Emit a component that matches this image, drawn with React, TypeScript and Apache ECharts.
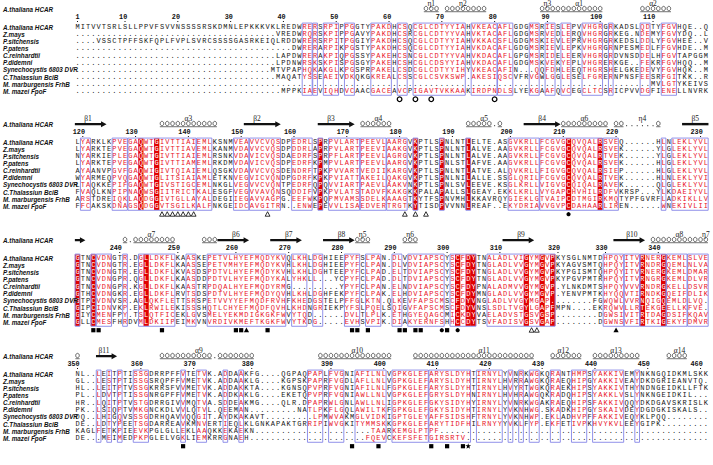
import React, { useEffect, useRef } from "react";
import * as echarts from "echarts";

// ---------------- data ----------------
const speciesNames = [
  "A.thaliana HCAR",
  "Z.mays",
  "P.sitchensis",
  "P.patens",
  "C.reinhardtii",
  "P.didemni",
  "Synechocystis 6803 DVR",
  "C.Thalassiun BciB",
  "M. marburgensis FrhB",
  "M. mazei FpoF",
];
const headerName = "A.thaliana HCAR";

const gap = (n: number) => ".".repeat(n);

const block1Seqs = [
  "MITVVTSRLSLLPPVFSVVNSSSSRSKDMNLEPKKKVKLREDWRERSRPIPPGGTYPAKDHCSQCGLCDTYYIAHVKEACAFLGDGMSRIESLEPVVHGRGRKADSLQDTYFGVHQE..Q",
  gap(38) + "VREDWRQRSKPIPPGAVYPAKDHCSRCGLCDTYYVAHVKTACAFLGDGMSRVEDLERQVHGRGRKEG.NDEMYFGVYDQ..L",
  gap(4) + "VSSCTPFFSKFQPLFVPLSVRCSSSSGASRKEIQLRDDWRERSRPITPGGIYPAKDHCSQCGLCDTYYIAHVKKACSFLGDGMSKIEVLEPRVHGRGRKEDSLDDLYFGVHEE..V",
  gap(41) + "DWRERARPIKPGSTYPAKDHCSQCGLCDTYYIAHVKDACAFLGDGMSRIEVLEPKVHGRGRNPESMEDLFFGVHDE..M",
  gap(38) + "LAPDWRERAKPIQPGSSYPAKEHCSNCGLCDTYYVAHVKDACAFLGPGMSRIDELEERVHGRGRDVNSDDELHFGVTAPGGM",
  gap(38) + "LPDNWRSKSKPISPGSGYPAKEHCSHCGLCDSYYIAHVKDACAFLGDGMSKVEKYEPLVHGRERKGE..FEKRFGVHQQ..M",
  gap(37) + "MTVPAPHQKAKGLKPGSPRPAKELCSDCGLCDTYYIHYVKEACAFIN...QQFDHLEEQTHGRSHELGKEDEVYFGVHQK..M",
  gap(38) + "MAQATYSSEAEIVDKQKGKREALCSSCGLCSVKSWP.AKESIQSCVFRVGWLGGLESELFGRERNPNSFEESRFGITKK..R",
  gap(109) + "MVLGTYKEIVS",
  gap(39) + "MPPKIAEVIQHDVCAACGACEAVCPIGAVTVKKAAKIRDPNDLSLYEKGAAFQVCEGCLTCSRICPVVDGFIENELLNVRK",
];

const block2Seqs = [
  "LYARKLKPVEGAQWTGIVTTIAIEMLKSNMVEAVVCVQSDPEDRLSPRPVLARTPEEVLAARGVKPTLSPNLNTLELTE.ASGVKRLLFCGVGCQVQALRSVEQ......HLNLEKLYVL",
  "LYARKTEPVEGAQWTGIVTTIAVEMLKANMVDAVVCVQSDPDDRLAPRPVLARTPEEVIAAKGVKPTLSPNLNTLALVE.AAGVKRLLFCGVGCQVQALRSVEK......YLGLEKLYVL",
  "NYARKIEPLEGAQWTGIVTTIAIEMLRSNKVDAVICVQSDAEDRFSPRPFLARTPEEVLAGRGVKPTLSPNLNTLALVE.AAGVKRLLFCGVGCQVQALRTVEK......YLGLEKLYVL",
  "LYARKTEPVEGAQWTGIVTTIAMEMLRKDMVDAVICVQSDPEDRFKPMPVLARTPEEVLAARGVKPTLSPNLSTLAFVE.AAGVKRLLFCGVGCQVQALRSVEK......HLGLEKLYVL",
  "AYAANVPGVFGAQWIGIVTQIAIEMLQSGKVDAVVCVQSDENDRFTPKPVVARTVEDIIKARGVKPTLSPNLNTLATVE.ALQVKRLLFIGVGCQVQALRSIEP......HLGLEKLYVL",
  "WYARMEQPVQGAQWTGLITSIAIAMLETKNVEGVICVQNDPGDRFKPKPVIATTAKEILQAKGVKPTLSPNLNILALLE.SSGLQRILFCGVGCQVQALRTVEK......HLNLEKLYVI",
  "LTAQKKEPIFGAQWTGIVSTIGCEMLNKGLVEGVVCVQNTPEDRFQPQVVIARTPAEVLAAKVNKPTLSPNLSVLEEVE.KSGLKRLLVIGVGCQIQALRAVEK......QLGLEKLYVL",
  "FVAQLKNPIPNAQWSGIITRICTKALESGFVEGVVAVQNSQDDIFVPKPVLATSTADVFKAKGKKPALAPALLSLGEAY.EKKLKRLLVYGAPCHVHILRDFVKRSP...YLKDAEIYVL",
  "ARSTDREIQKLAQDGGIVTGLLAYALDEGIIEGAVVAGPG.EEFWKPQPMVAMSSDELKAAAGTKYTFSPNVMHLKKAVRQYGIEKLGTVAIPCDTMGIRKMQTYPFGVRFLADKIKLLV",
  "FFCAKSKDNAGSQDGGVTSGILKALFNKGEIDCAVGITRN..ENWEPEVVLISAEDVERTRGTKYTISDPVVNNLREAF..EKYDRIAVVGVPCDAHAARLIREN......WNEKIVLII",
];

const block3Seqs = [
  "GTNCVDNGTR.DGLLDKFLKAASKEPETVLHYEFMQDYKVQLKHLDGHIEE" + "PYFSLPAN.DLVDVIAPSCYSCFDYTNALADLVIGYMGVPKYSGLNMTDHPQYITVRNERGKEMLSLVE",
  "GTNCVDNGTR.EGLLDKFLKAASSEPETVMHYEFMQDYKVHLKHLDGHIEE" + "PYFCLPAN.DLVDVIAPSCYSCFDYTNGLADLVVGYMGVPKYAGVSMTQHPQYITVRNDRGQEMLNLVA",
  "GTNCVDNGTR.EGLLDKFLKVASDSPDTVLHYEFMQDYKVHLKHLDGHTEE" + "PYFCLPAD.ELTDVIAPSCYSCFDYTNGLADLVVGYMGVPKYPGISMTQHPQYITVRNERGKEMLDMAR",
  "GTNCVDNGPR.QGLLDKFLKAASDDPDTVLHYEFMQDYKALYHKLL...YC" + "PYFCLPAD.DLTDVIAPSCYSCFDYTNGLADLVVGYMGVPKYPGVPMTRHPQYITVRNGRGKEMLDLVR",
  "GTNCVDNGPR.KGLLDKFLKAASTRPDQALHYEFMQDYRMG.........Y" + "PYFCLPAN.ELNDVIAPSCYSCFDYPNALADMVVGYMGVP.YLNKDMTSHPQYVVVRNDRGKELLDSVR",
  "GTHCVDNGKR.EGLLDKFLRVTSDSPDTVLHYEFMQDYQVHLKHLDGHFEK" + "PYFCLPAK.ELHDVIAPSCYSCFDYMNGLADLVVGYMGVP.YENVPMTKHYQQVTIRNDKGQEIFDLIK",
  "GTPCVDNVSR.AGLQKFLETTSRSPETVVYYEFMQDFRVHFKHEDGSTEL" + "PFFGLKTN.QLKEVFAPSCMSCFDYVNGLADLVVGYMGAP........FGWQWLVVRNQIGQEMLDLVQ",
  "GIPCIDNVKP.EKLRWILEKISSSHQTLCHYEFMQDFQVHLKHDNGRIEK" + "PYFSLPQELSQIGVFAPSCMSCFDYVNSLSDLTVGYLGAPFMPN....EKRQWVLLRTEKGEELLKFVE",
  "GIYCMENFPY.TSLQTFICEKLGVSMELYEKMDIGKGKFWVYTQD......" + "DVLTLPLK.ETHGYEQAGCMICKDYVAELADVSTGSVGSP........DGWSIVITRTDAGDSIFKQAV",
  "GLLCMESFHRDVMLDKIIPEIMKVNVRDIVKMEFTKGKFWVYTKDG....." + "EVHSVPIK.DIAKYERNFSHHCCDYTSVFADISVGSVGAP........DGWNSVFIRTKIGEKYFDMVR",
];

const block4Seqs = [
  "NL..LEITPTISSGDRRPFFVTETVK.ADDAAKFG....QGPAQPAPLFVGN" + "IAFILNLVGPKGLEFARYSLDYHTIRNYLYVNRKWGKQRANTHMPSYAKKIVEMYNKNGQIDKMLSKK",
  "GL..LESTPTISSGSRQPFFVMETVK.ADDAAKLG....KGPSKPAPRFVGD" + "LAFLLNLVGPKGLEFARYSLDYHTIRNYLHVRRAWGKQRAEQHIPGYAKKIVEAYDKDGRIEANVTQ.",
  "HL..LEITPTVSSGKRRSFVVMETVK.ADDAKKTA....KGNSQPVPRFVGN" + "IAFILNLFGPKGLEFARYSLDYHTIRNYLHVYRTWGKQRAEKHIPSYAKKIVTHYNDNGEIDKLLFTK",
  "PL..LDVTPTISSGNRGPFFVMETVK.ADDKAKLG....EKETQPVPRFVGN" + "IAWLLNLVGPKGLEFGRYSLDYHNIRNYLHVHRAWGQKRADQHIPSYAKKLVSLYNKNGEIDKIL...",
  "HR..LQITPTVSTGDRRGIVVMQTVA.SDDEAKMG....QLR.DPAPRWLGN" + "LAWLLNLIGPKGLEFGKYSIDYHYIRNYLYVNRKWGAKRAEQHIPSFAKKIVQQYDKDGAVSKRISLK",
  "PK..LSIQPTVMKGNCKDLVVLQTVL.QEEMAN.........NATLPKFLGQ" + "LAWILTKFGPKGLEFGKYSIDYHTIRNYLYVKNHWG.SKADKHIPGYSKAIVDEYDGDGKISKALS..",
  "DQ..LHIGQVSSSGDRHQAVVQQGIT.AYDKAKAVT.........LPMWVAK" + "MGLVIDKIGPTGLEYAFFSIDSHFTRNYLYVKNHWP.EKLADHVPFFAKKIVEQYKLPQQ........",
  "DE..LDTYPEETSGDARREAVKMNVERTIEQLKLGNKAPAKTGRRIPIWVGK" + "ITYMMSKKGPKGLEFARYTIDFHILRNYYYVKLFYP.EKFETIVPKHVYKVLEEYGIPK.........",
  "KAGLFETKPIEEVKPGLGLLEKLAAQKKEKAEKN" + gap(18) + "....TAARKEMGLPTPF" + gap(51),
  "DE...MEIMEDPKPGLELVGKLIEMKRRGNAEH" + gap(19) + "...FQEVCKEFSFETGIRSRTV" + gap(46),
];

// strictly conserved columns (red background)
const block1RedCols: number[] = [];
const block2RedCols = [12, 15, 46, 64, 69, 74, 93, 99];
const block3RedCols = [0, 3, 13, 72, 74, 75, 85, 88, 90, 107, 111];
const block4RedCols: number[] = [];

// similarity frames [first column, last column]
const block1Boxes = [[43, 44], [45, 45], [47, 49], [51, 52], [56, 59], [61, 62], [64, 73], [75, 79], [80, 82], [86, 87], [89, 90], [92, 93], [96, 99], [101, 101], [107, 108], [111, 113]];
const block2Boxes = [[1, 2], [7, 9], [10, 22], [23, 25], [30, 32], [33, 38], [41, 44], [46, 46], [48, 53], [54, 58], [59, 62], [64, 64], [69, 69], [74, 74], [82, 87], [88, 99], [100, 102], [111, 111], [113, 119]];
const block3Boxes = [[0, 0], [3, 3], [4, 6], [9, 9], [12, 18], [21, 22], [25, 39], [41, 43], [45, 46], [51, 53], [55, 57], [60, 61], [63, 69], [71, 75], [78, 90], [100, 103], [104, 106], [107, 111], [112, 115], [116, 119]];
const block4Boxes = [[4, 4], [6, 6], [8, 8], [11, 13], [20, 20], [23, 24], [28, 28], [31, 31], [44, 46], [48, 50], [53, 58], [60, 66], [67, 74], [76, 80], [82, 82], [84, 84], [86, 87], [90, 91], [94, 96], [98, 103], [106, 106]];

// residue numbering [label, column]
const block1Ticks = [[1, 0], [10, 9], [20, 19], [30, 29], [40, 39], [50, 49], [60, 59], [70, 69], [80, 79], [90, 89], [100, 99], [110, 109]];
const block2Ticks = [[120, 1], [130, 11], [140, 21], [150, 31], [160, 41], [170, 51], [180, 61], [190, 71], [200, 82], [210, 92], [220, 102], [230, 118]];
const block3Ticks = [[240, 8], [250, 19], [260, 30], [270, 40], [280, 50], [290, 60], [300, 70], [310, 80], [320, 91], [330, 100], [340, 110]];
const block4Ticks = [[350, 0], [360, 12], [370, 22], [380, 33], [390, 48], [400, 58], [410, 68], [420, 78], [430, 88], [440, 98], [450, 108], [460, 118]];

// secondary structure: h = helix turn, e = strand arrow, E = strand without head, t = turn dot
const block1SS: [string, number, number][] = [["h", 66, 68], ["h", 70, 77], ["h", 88, 91], ["h", 92, 99], ["h", 107, 112]];
const block2SS: [string, number, number][] = [["e", 0, 5], ["h", 16, 26], ["e", 32, 38], ["e", 46, 52], ["h", 54, 59], ["h", 74, 78], ["t", 79, 79], ["h", 80, 80], ["e", 85, 91], ["h", 92, 100], ["h", 102, 103], ["t", 104, 109], ["h", 110, 110], ["E", 115, 119]];
const block3SS: [string, number, number][] = [["e", 0, 1], ["h", 9, 9], ["t", 10, 10], ["h", 11, 18], ["h", 24, 26], ["e", 27, 32], ["e", 37, 42], ["e", 47, 52], ["h", 53, 55], ["h", 62, 64], ["e", 81, 86], ["e", 102, 107], ["h", 109, 119]];
const block4SS: [string, number, number][] = [["h", 0, 0], ["e", 4, 7], ["h", 16, 25], ["t", 26, 26], ["h", 27, 33], ["h", 46, 59], ["h", 64, 86], ["h", 90, 95], ["h", 98, 106], ["h", 112, 115]];

const block1SSLabels: [string, number][] = [["η1", 67], ["η2", 73], ["η3", 89], ["α1", 95], ["α2", 109]];
const block2SSLabels: [string, number][] = [["β1", 2], ["α3", 21], ["β2", 34], ["β3", 48], ["α4", 57], ["α5", 77], ["β4", 88], ["α6", 96], ["η4", 107], ["β5", 117]];
const block3SSLabels: [string, number][] = [["α7", 14], ["β6", 30], ["β7", 40], ["β8", 50], ["η5", 54], ["η6", 63], ["β9", 84], ["β10", 105], ["α8", 114], ["η7", 119]];
const block4SSLabels: [string, number][] = [["β11", 5], ["α9", 23], ["α10", 53], ["α11", 77], ["α12", 92], ["α13", 102], ["α14", 114]];

// site markers under the alignment: o open circle, c filled circle, s square, t filled triangle, T open triangle, S star
const block1Marks: [string, number][] = [["o", 61], ["o", 64], ["o", 67], ["o", 79]];
const block2Marks: [string, number][] = [["T", 16], ["T", 17], ["T", 18], ["T", 19], ["T", 20], ["T", 21], ["T", 22], ["T", 36], ["T", 62], ["T", 64], ["T", 66], ["c", 93]];
const block3Marks: [string, number][] = [["s", 3], ["s", 4], ["s", 16], ["s", 30], ["s", 31], ["t", 32], ["s", 36], ["s", 52], ["s", 53], ["s", 55], ["s", 61], ["s", 62], ["s", 64], ["s", 65], ["c", 69], ["s", 70], ["c", 72], ["T", 86], ["T", 87], ["t", 102]];
const block4Marks: [string, number][] = [["s", 20], ["s", 52], ["s", 57], ["s", 67], ["s", 70], ["s", 73], ["S", 74]];

const blocks = [
  { seqs: block1Seqs, red: block1RedCols, boxes: block1Boxes, ticks: block1Ticks, ss: block1SS, ssLabels: block1SSLabels, marks: block1Marks },
  { seqs: block2Seqs, red: block2RedCols, boxes: block2Boxes, ticks: block2Ticks, ss: block2SS, ssLabels: block2SSLabels, marks: block2Marks },
  { seqs: block3Seqs, red: block3RedCols, boxes: block3Boxes, ticks: block3Ticks, ss: block3SS, ssLabels: block3SSLabels, marks: block3Marks },
  { seqs: block4Seqs, red: block4RedCols, boxes: block4Boxes, ticks: block4Ticks, ss: block4SS, ssLabels: block4SSLabels, marks: block4Marks },
];

// ---------------- layout / style ----------------
const NCOL = 120;
const COL_PITCH = 5.28;
const COL0_X = 77.5;
const ROW_PITCH = 7.15;
const FIRST_ROW_Y = [27, 142, 258, 374];
const Y_MIN = -3.7;
const Y_MAX = 10.6;
const Y_SSLABEL = -3.35;
const Y_GLYPH = -2.5;
const Y_NUM = -1.35;
const Y_MARK = 10.1;

const RED_FILL = "#e10000";
const RED_TEXT = "#e8131f";
const BOX_BLUE = "#8585e6";
const INK = "#161616";
const MONO = '"Liberation Mono", "DejaVu Sans Mono", monospace';

function fixLen(s: string) {
  if (s.length >= NCOL) return s.slice(0, NCOL);
  return s + ".".repeat(NCOL - s.length);
}

function buildOption() {
  const grid: any[] = [];
  const xAxis: any[] = [];
  const yAxis: any[] = [];
  const series: any[] = [];

  blocks.forEach((blk, b) => {
    const seqs = blk.seqs.map(fixLen);
    const redSet = new Set(blk.red);
    const inBox = (c: number) => blk.boxes.some(([s, e]) => c >= s && c <= e);
    grid.push({
      left: COL0_X - COL_PITCH / 2,
      width: NCOL * COL_PITCH,
      top: FIRST_ROW_Y[b] + Y_MIN * ROW_PITCH,
      height: (Y_MAX - Y_MIN) * ROW_PITCH,
      containLabel: false,
    });
    xAxis.push({ type: "value", gridIndex: b, min: -0.5, max: NCOL - 0.5, show: false });
    yAxis.push({ type: "value", gridIndex: b, min: Y_MIN, max: Y_MAX, inverse: true, show: false });

    const common = { type: "custom", xAxisIndex: b, yAxisIndex: b, silent: true, animation: false };

    // red conserved columns
    series.push({
      ...common,
      z: 1,
      data: blk.red.map((c) => [c, 0]),
      renderItem: (_p: any, api: any) => {
        const c = api.value(0);
        const a = api.coord([c - 0.5, -0.5]);
        const z = api.coord([c + 0.5, 9.5]);
        return { type: "rect", shape: { x: a[0], y: a[1], width: z[0] - a[0], height: z[1] - a[1] }, style: { fill: RED_FILL } };
      },
    });

    // residues
    const cells: number[][] = [];
    seqs.forEach((s, r) => {
      for (let c = 0; c < NCOL; c++) cells.push([c, r]);
    });
    series.push({
      ...common,
      z: 3,
      data: cells,
      renderItem: (_p: any, api: any) => {
        const c = api.value(0);
        const r = api.value(1);
        const raw = seqs[r][c];
        const p = api.coord([c, r]);
        const lower = raw !== raw.toUpperCase();
        let fill = INK;
        if (redSet.has(c)) fill = "#ffffff";
        else if (raw !== "." && !lower && inBox(c)) fill = RED_TEXT;
        return {
          type: "text",
          x: p[0],
          y: p[1],
          style: { text: raw.toUpperCase(), fill, fontSize: 7, fontFamily: MONO, align: "center", verticalAlign: "middle" },
        };
      },
    });

    // frames
    series.push({
      ...common,
      z: 4,
      data: blk.boxes.map(([s, e]) => [s, e]),
      renderItem: (_p: any, api: any) => {
        const a = api.coord([api.value(0) - 0.5, -0.55]);
        const z = api.coord([api.value(1) + 0.5, 9.55]);
        return {
          type: "rect",
          shape: { x: a[0] + 0.3, y: a[1], width: z[0] - a[0] - 0.6, height: z[1] - a[1] },
          style: { fill: "none", stroke: BOX_BLUE, lineWidth: 0.9 },
        };
      },
    });

    // secondary structure glyphs
    series.push({
      ...common,
      z: 5,
      data: blk.ss.map((d, i) => [d[1], Y_GLYPH, i]),
      renderItem: (_p: any, api: any) => {
        const d = blk.ss[api.value(2)];
        const kind = d[0];
        const s = d[1];
        const e = d[2];
        const children: any[] = [];
        const p0 = api.coord([s - 0.5, Y_GLYPH]);
        const p1 = api.coord([e + 0.5, Y_GLYPH]);
        const y = p0[1];
        if (kind === "h") {
          for (let c = s; c <= e; c++) {
            const pc = api.coord([c, Y_GLYPH]);
            children.push({ type: "ellipse", shape: { cx: pc[0], cy: y - 0.6, rx: 1.8, ry: 2.2 }, style: { fill: "none", stroke: "#333", lineWidth: 0.75 } });
          }
          children.push({ type: "line", shape: { x1: p0[0] + 0.5, y1: y + 2.6, x2: p1[0] - 0.5, y2: y + 2.6 }, style: { stroke: "#333", lineWidth: 0.7 } });
        } else if (kind === "t") {
          for (let c = s; c <= e; c++) {
            const pc = api.coord([c, Y_GLYPH]);
            children.push({ type: "circle", shape: { cx: pc[0], cy: y + 1.6, r: 0.55 }, style: { fill: "#333" } });
          }
        } else {
          const head = kind === "e" ? 5.5 : 0;
          const x0 = p0[0];
          const x1 = p1[0];
          children.push({
            type: "polygon",
            shape: {
              points: head
                ? [[x0, y - 1.2], [x1 - head, y - 1.2], [x1 - head, y - 3], [x1, y], [x1 - head, y + 3], [x1 - head, y + 1.2], [x0, y + 1.2]]
                : [[x0, y - 1.2], [x1, y - 1.2], [x1, y + 1.2], [x0, y + 1.2]],
            },
            style: { fill: "#111" },
          });
        }
        return { type: "group", children };
      },
    });

    // secondary structure labels
    series.push({
      ...common,
      z: 5,
      data: blk.ssLabels.map((d, i) => [d[1], Y_SSLABEL, i]),
      renderItem: (_p: any, api: any) => {
        const d = blk.ssLabels[api.value(2)];
        const p = api.coord([api.value(0), Y_SSLABEL]);
        return {
          type: "text",
          x: p[0],
          y: p[1],
          style: { text: d[0], fill: "#222", fontSize: 7.5, fontFamily: '"Liberation Serif", "DejaVu Serif", serif', align: "center", verticalAlign: "middle" },
        };
      },
    });

    // residue numbers with their dot
    series.push({
      ...common,
      z: 5,
      data: blk.ticks.map(([lab, col]) => [col, Y_NUM, lab]),
      renderItem: (_p: any, api: any) => {
        const p = api.coord([api.value(0), Y_NUM]);
        return {
          type: "group",
          children: [
            {
              type: "text",
              x: p[0] + 2.2,
              y: p[1],
              style: { text: String(api.value(2)), fill: "#111", fontSize: 6.8, fontWeight: "bold", fontFamily: MONO, align: "right", verticalAlign: "middle" },
            },
            { type: "rect", shape: { x: p[0] - 0.5, y: p[1] + 3.6, width: 1, height: 1 }, style: { fill: "#111" } },
          ],
        };
      },
    });

    // markers
    series.push({
      ...common,
      z: 5,
      data: blk.marks.map((d, i) => [d[1], Y_MARK, i]),
      renderItem: (_p: any, api: any) => {
        const kind = blk.marks[api.value(2)][0];
        const p = api.coord([api.value(0), Y_MARK]);
        const x = p[0];
        const y = p[1];
        if (kind === "o") return { type: "circle", shape: { cx: x, cy: y, r: 2.3 }, style: { fill: "none", stroke: "#000", lineWidth: 1.3 } };
        if (kind === "c") return { type: "circle", shape: { cx: x, cy: y, r: 2.1 }, style: { fill: "#000" } };
        if (kind === "s") return { type: "rect", shape: { x: x - 2.1, y: y - 2.1, width: 4.2, height: 4.2 }, style: { fill: "#000" } };
        if (kind === "t") return { type: "polygon", shape: { points: [[x, y - 2.6], [x - 2.6, y + 2], [x + 2.6, y + 2]] }, style: { fill: "#000" } };
        if (kind === "T") return { type: "polygon", shape: { points: [[x, y - 2.5], [x - 2.4, y + 2], [x + 2.4, y + 2]] }, style: { fill: "none", stroke: "#000", lineWidth: 0.8 } };
        const pts: number[][] = [];
        for (let k = 0; k < 10; k++) {
          const ang = -Math.PI / 2 + (k * Math.PI) / 5;
          const rad = k % 2 ? 1.2 : 3;
          pts.push([x + rad * Math.cos(ang), y + rad * Math.sin(ang)]);
        }
        return { type: "polygon", shape: { points: pts }, style: { fill: "#000" } };
      },
    });

    // sequence names + header name
    const nameRows = speciesNames.map((n, i) => [-0.5, i, i]);
    nameRows.push([-0.5, Y_GLYPH, -1]);
    series.push({
      ...common,
      z: 5,
      data: nameRows,
      renderItem: (_p: any, api: any) => {
        const idx = api.value(2);
        const p = api.coord([api.value(0), api.value(1)]);
        return {
          type: "text",
          x: 3,
          y: p[1],
          style: {
            text: idx < 0 ? headerName : speciesNames[idx],
            fill: "#111",
            fontSize: 6.3,
            fontStyle: "italic",
            fontWeight: "bold",
            fontFamily: '"Liberation Sans", Arial, sans-serif',
            align: "left",
            verticalAlign: "middle",
          },
        };
      },
    });
  });

  return { animation: false, backgroundColor: "#ffffff", grid, xAxis, yAxis, series };
}

export default function App() {
  const ref = useRef<HTMLDivElement | null>(null);
  useEffect(() => {
    if (!ref.current) return;
    const chart = echarts.init(ref.current, undefined, { renderer: "svg" });
    chart.setOption(buildOption() as any);
    return () => chart.dispose();
  }, []);
  return <div ref={ref} style={{ position: "fixed", left: 0, top: 0, width: 713, height: 465, background: "#fff" }} />;
}
